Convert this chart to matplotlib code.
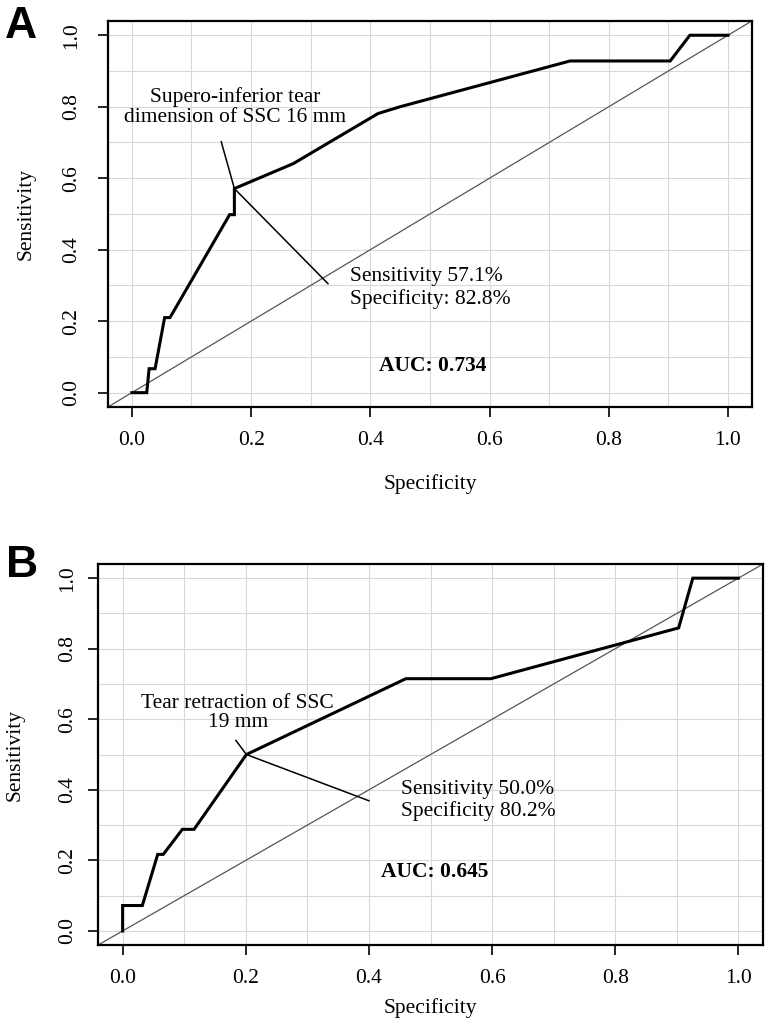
import numpy as np
import matplotlib
matplotlib.use("Agg")
import matplotlib.pyplot as plt

plt.rcParams['font.family'] = ['Liberation Serif', 'DejaVu Serif']

# ROC curve A: supero-inferior tear dimension of SSC
spec_a = [0.0, 0.025, 0.029, 0.039, 0.055, 0.064, 0.164, 0.172, 0.172, 0.271, 0.413, 0.45, 0.735, 0.903, 0.936, 1.0]
sens_a = [0.0, 0.0, 0.067, 0.067, 0.21, 0.21, 0.498, 0.498, 0.571, 0.641, 0.781, 0.80, 0.928, 0.928, 1.0, 1.0]
cut_a = (0.172, 0.571)

# ROC curve B: tear retraction of SSC
spec_b = [0.0, 0.0, 0.032, 0.057, 0.066, 0.097, 0.116, 0.201, 0.46, 0.598, 0.903, 0.926, 1.0]
sens_b = [0.0, 0.072, 0.072, 0.217, 0.217, 0.288, 0.288, 0.50, 0.715, 0.715, 0.859, 1.0, 1.0]
cut_b = (0.201, 0.50)

ticks = [0.0, 0.2, 0.4, 0.6, 0.8, 1.0]
tick_labels = ['0.0', '0.2', '0.4', '0.6', '0.8', '1.0']

fig = plt.figure(figsize=(7.68, 10.22), dpi=100)
ax_a = fig.add_axes([0.1406, 0.6018, 0.8384, 0.3777])
ax_b = fig.add_axes([0.1276, 0.0753, 0.8659, 0.3728])


def setup(ax, ylab_x, xlab_y, ypad):
    ax.set_xlim(-0.04, 1.04)
    ax.set_ylim(-0.04, 1.04)
    ax.set_xticks(ticks)
    ax.set_xticklabels(tick_labels)
    ax.set_yticks(ticks)
    ax.set_yticklabels(tick_labels, rotation=90, va='center')
    ax.set_xticks(np.arange(0, 1.01, 0.1), minor=True)
    ax.set_yticks(np.arange(0, 1.01, 0.1), minor=True)
    ax.grid(which='both', color='#d9d9d9', lw=0.8)
    ax.set_axisbelow(True)
    ax.tick_params(which='major', length=7, width=1.2, labelsize=15.5)
    ax.tick_params(axis='x', which='major', pad=10)
    ax.tick_params(axis='y', which='major', pad=ypad)
    ax.tick_params(which='minor', length=0)
    for s in ax.spines.values():
        s.set_linewidth(1.6)
    ax.axline((0, 0), slope=1, color='#555555', lw=0.9)
    ax.set_xlabel('Specificity', fontsize=15.5)
    ax.set_ylabel('Sensitivity', fontsize=15.5)
    ax.xaxis.set_label_coords(0.5, xlab_y)
    ax.yaxis.set_label_coords(ylab_x, 0.5)


# panel A
setup(ax_a, -0.112, -0.174, 12)
ax_a.plot(spec_a, sens_a, color='black', lw=2.2, solid_joinstyle='miter')
ax_a.plot([0.150, cut_a[0], 0.329], [0.702, cut_a[1], 0.305], color='black', lw=1.1)
ax_a.text(0.173, 0.80, 'Supero-inferior tear\ndimension of SSC 16 mm', ha='center', va='center',
          fontsize=15.5, linespacing=1.05)
ax_a.text(0.366, 0.293, 'Sensitivity 57.1%\nSpecificity: 82.8%', ha='left', va='center',
          fontsize=15.5, linespacing=1.15)
ax_a.text(0.505, 0.076, 'AUC: 0.734', ha='center', va='center', fontsize=15.5, fontweight='bold')

# panel B
setup(ax_b, -0.111, -0.139, 8)
ax_b.plot(spec_b, sens_b, color='black', lw=2.2, solid_joinstyle='miter')
ax_b.plot([0.184, cut_b[0], 0.40], [0.54, cut_b[1], 0.369], color='black', lw=1.1)
ax_b.text(0.187, 0.618, 'Tear retraction of SSC\n19 mm', ha='center', va='center',
          fontsize=15.5, linespacing=1.05)
ax_b.text(0.452, 0.369, 'Sensitivity 50.0%\nSpecificity 80.2%', ha='left', va='center',
          fontsize=15.5, linespacing=1.15)
ax_b.text(0.507, 0.168, 'AUC: 0.645', ha='center', va='center', fontsize=15.5, fontweight='bold')

# panel letters
fig.text(21 / 768, 1 - 26 / 1022, 'A', fontsize=32, fontweight='bold', family='Liberation Sans',
         ha='center', va='center')
fig.text(22 / 768, 1 - 565 / 1022, 'B', fontsize=32, fontweight='bold', family='Liberation Sans',
         ha='center', va='center')

fig.savefig('out.png', dpi=100)
